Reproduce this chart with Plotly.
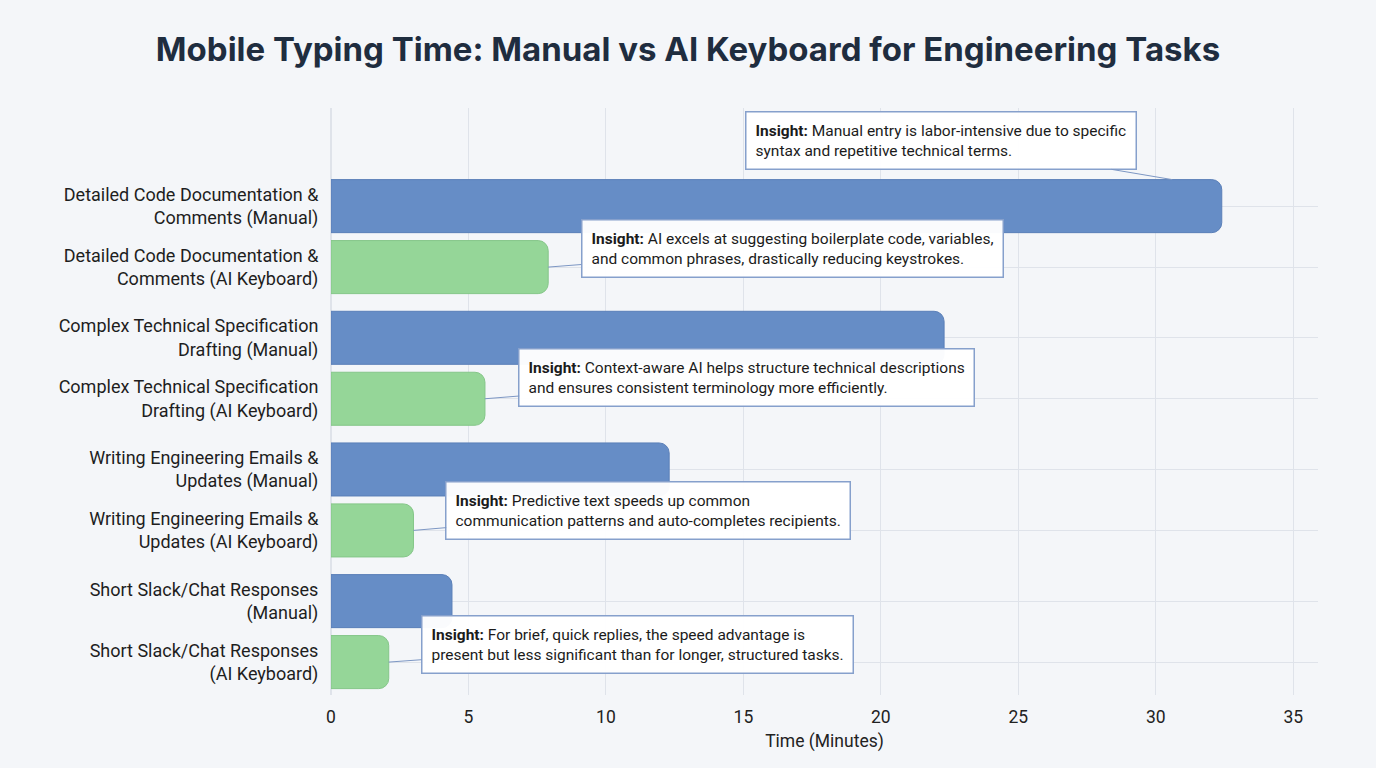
import plotly.graph_objects as go

labels = [
    "Detailed Code Documentation &<br>Comments (Manual)",
    "Detailed Code Documentation &<br>Comments (AI Keyboard)",
    "Complex Technical Specification<br>Drafting (Manual)",
    "Complex Technical Specification<br>Drafting (AI Keyboard)",
    "Writing Engineering Emails &<br>Updates (Manual)",
    "Writing Engineering Emails &<br>Updates (AI Keyboard)",
    "Short Slack/Chat Responses<br>(Manual)",
    "Short Slack/Chat Responses<br>(AI Keyboard)",
]
methods = ["Manual", "AI", "Manual", "AI", "Manual", "AI", "Manual", "AI"]
times = [32.4, 7.9, 22.3, 5.6, 12.3, 3.0, 4.4, 2.1]

insights = [
    (0, "<b>Insight:</b> Manual entry is labor-intensive due to specific<br>syntax and repetitive technical terms."),
    (1, "<b>Insight:</b> AI excels at suggesting boilerplate code, variables,<br>and common phrases, drastically reducing keystrokes."),
    (3, "<b>Insight:</b> Context-aware AI helps structure technical descriptions<br>and ensures consistent terminology more efficiently."),
    (5, "<b>Insight:</b> Predictive text speeds up common<br>communication patterns and auto-completes recipients."),
    (7, "<b>Insight:</b> For brief, quick replies, the speed advantage is<br>present but less significant than for longer, structured tasks."),
]

x_ticks = [0, 5, 10, 15, 20, 25, 30, 35]

GROUP_GAP = 0.16
pos = [i + (i // 2) * GROUP_GAP for i in range(len(labels))]

COLORS = {"Manual": "#668dc6", "AI": "#95d698"}
EDGES = {"Manual": "#5a7fb8", "AI": "#84c688"}

fig = go.Figure()
for m in ["Manual", "AI"]:
    idx = [i for i, mm in enumerate(methods) if mm == m]
    fig.add_trace(go.Bar(
        x=[times[i] for i in idx],
        y=[pos[i] for i in idx],
        orientation="h",
        width=0.87,
        marker=dict(color=COLORS[m], line=dict(width=1, color=EDGES[m])),
        name=m,
        showlegend=False,
        hoverinfo="x",
    ))

# annotation offsets (pixels, text center relative to point)
offsets = {0: (-231, -39), 1: (244, -19), 3: (262, -21), 5: (235, -20), 7: (249, -18)}
for i, txt in insights:
    ax, ay = offsets[i]
    if i == 0:
        px, py = 30.6, pos[i] - 0.435
    else:
        px, py = times[i], pos[i]
    fig.add_annotation(
        x=px, y=py, xref="x", yref="y",
        ax=ax, ay=ay, axref="pixel", ayref="pixel",
        text=txt, showarrow=True, arrowhead=0, arrowwidth=1, arrowcolor="#7d97c4",
        align="left", font=dict(family="Roboto", size=15.5, color="#1b1b1b"),
        bgcolor="rgba(255,255,255,0.97)", bordercolor="#86a0cc", borderwidth=1.5,
        borderpad=9,
    )

fig.update_layout(
    width=1376, height=768,
    margin=dict(l=331, r=58, t=108, b=73),
    paper_bgcolor="#f4f6f9",
    plot_bgcolor="#f4f6f9",
    barcornerradius=10,
    title=dict(
        text="<b>Mobile Typing Time: Manual vs AI Keyboard for Engineering Tasks</b>",
        x=0.5, xanchor="center", y=0.935, yanchor="middle",
        font=dict(family="Inter", size=33, color="#1f2d3f"),
    ),
    font=dict(family="Roboto", color="#1e1e1e"),
    xaxis=dict(
        range=[0, 35.9], tickvals=x_ticks, showgrid=True, gridcolor="#dfe3ea",
        gridwidth=1, zeroline=True, zerolinecolor="#dfe3ea", showline=False,
        tickfont=dict(size=17.5, color="#222"),
        title=dict(text="Time (Minutes)", font=dict(size=17.5, color="#222"), standoff=8),
        ticks="outside", ticklen=6, tickcolor="rgba(0,0,0,0)",
    ),
    yaxis=dict(
        range=[8.02, -1.61], tickvals=pos, ticktext=labels,
        showgrid=True, gridcolor="#dfe3ea", zeroline=False,
        tickfont=dict(size=18, color="#1e1e1e"),
        ticks="outside", ticklen=8, tickcolor="rgba(0,0,0,0)",
    ),
)

fig.write_html("out.html", config={"displayModeBar": False},
               post_script="document.body.style.margin='0';")
